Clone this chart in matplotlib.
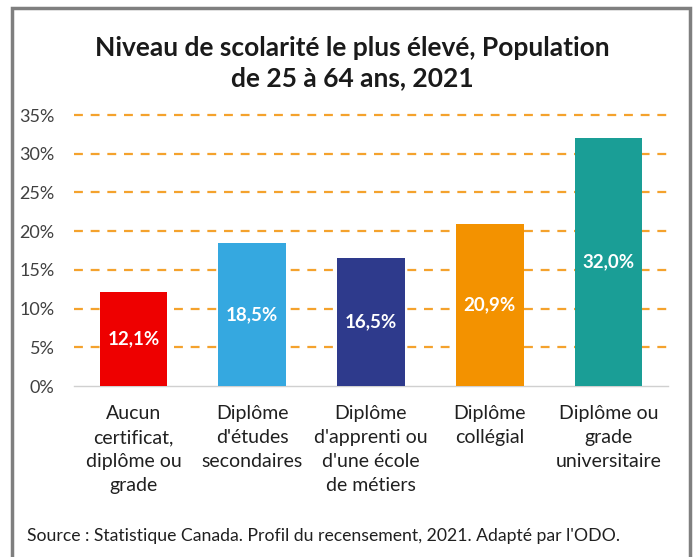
import matplotlib.pyplot as plt
from matplotlib.patches import Rectangle

plt.rcParams['font.family'] = ['Lato', 'DejaVu Sans']

# data
categories = [
    "Aucun\ncertificat,\ndiplôme ou\ngrade",
    "Diplôme\nd'études\nsecondaires",
    "Diplôme\nd'apprenti ou\nd'une école\nde métiers",
    "Diplôme\ncollégial",
    "Diplôme ou\ngrade\nuniversitaire",
]
values = [12.1, 18.5, 16.5, 20.9, 32.0]
colors = ["#EE0000", "#35A8E0", "#2E3A8C", "#F39200", "#1A9E96"]
yticks = [0, 5, 10, 15, 20, 25, 30, 35]

fig = plt.figure(figsize=(6.94, 5.57), dpi=100)
ax = fig.add_axes([0.1066, 0.307, 0.8559, 0.4865])

# gray frame around the chart
fig.patches.append(Rectangle((12 / 694, -0.01), 678 / 694, 1 - 8 / 557 + 0.01,
                             transform=fig.transFigure, fill=False,
                             edgecolor="#7F7F7F", linewidth=2.5))

x = range(len(values))
bars = ax.bar(x, values, width=0.57, color=colors, zorder=3)

for b, v in zip(bars, values):
    ax.text(b.get_x() + b.get_width() / 2, v / 2, f"{v:.1f}%".replace(".", ","),
            ha="center", va="center", color="white", fontsize=13.5,
            fontweight="bold", zorder=4)

ax.set_xlim(-0.5, 4.5)
ax.set_ylim(0, 35)
ax.set_yticks(yticks)
ax.set_yticklabels([f"{t}%" for t in yticks], fontsize=13, color="#404040")
ax.set_xticks(list(x))
ax.set_xticklabels(categories, fontsize=14, color="#202020", linespacing=1.5,
                   va="top")
ax.tick_params(axis="both", length=0)
ax.tick_params(axis="x", pad=14)
ax.tick_params(axis="y", pad=14)

for t in yticks[1:]:
    ax.axhline(t, color="#F4A22D", linestyle=(0, (4, 3.5)), linewidth=1.6,
               zorder=1, clip_on=False)

for s in ["top", "right", "left"]:
    ax.spines[s].set_visible(False)
ax.spines["bottom"].set_color("#D0D0D0")
ax.spines["bottom"].set_linewidth(1)

fig.text(352 / 694, 1 - 63 / 557,
         "Niveau de scolarité le plus élevé, Population\nde 25 à 64 ans, 2021",
         ha="center", va="center", fontsize=19, fontweight="bold",
         color="#1A1A1A", linespacing=1.3)

fig.text(27 / 694, 1 - 536 / 557,
         "Source : Statistique Canada. Profil du recensement, 2021. Adapté par l'ODO.",
         ha="left", va="center", fontsize=12.7, color="#202020")

fig.savefig("out.png", dpi=100, facecolor="white")
